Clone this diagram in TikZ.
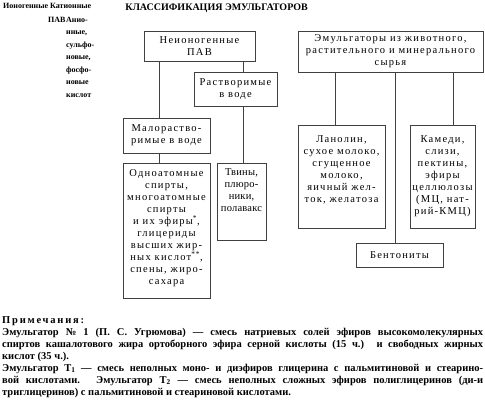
\documentclass[tikz,border=0pt]{standalone}
\usepackage{fontspec}
\setmainfont{Liberation Serif}
\newfontfamily\boxfont[LetterSpace=12]{Liberation Serif}
\usepackage{tikz}
\usetikzlibrary{
    positioning,
    calc,
}
\setlength{\parindent}{0pt}
\tikzset{
    % Box styles
    box/.style={rectangle, draw=black!75, line width=0.8pt, inner sep=0pt,
                align=center, font=\boxfont\fontsize{10.5}{12}\selectfont},
    % Connector styles
    link/.style={draw=black!75, line width=0.8pt},
    % Text styles
    head/.style={font=\bfseries\fontsize{10}{12}\selectfont, inner sep=0pt},
    side/.style={font=\bfseries\fontsize{8}{12.5}\selectfont, inner sep=0pt},
    note/.style={font=\bfseries\fontsize{10.5}{12}\selectfont, text width=481pt,
                 align=justify, inner sep=0pt},
}
\newcommand{\topbox}[4][6pt]{\parbox[c][#3][t]{#2}{\centering\vspace{#1}#4}}

\begin{document}
\begin{tikzpicture}[x=1pt, y=-1pt]
    \fill[white] (0,0) rectangle (485,404);
    \useasboundingbox (0,0) rectangle (485,404);

    % Header
    \node[head] (title) at (216.5,8) {КЛАССИФИКАЦИЯ ЭМУЛЬГАТОРОВ};
    \node[side, anchor=west] (ionic) at (3,6) {Ионогенные};
    \node[side, anchor=west] (cationic) at (50,6) {Катионные};
    \node[side, anchor=west] (pav) at (48,20) {ПАВ};
    \node[side, anchor=north west, align=left] (anionic) at (66,17)
        {Анио-\\нные,\\сульфо-\\новые,\\фосфо-\\новые\\кислот};

    % Left branch
    \node[box, minimum width=111pt, minimum height=30pt] (nonionic) at (199.5,46) {Неионогенные\\ПАВ};
    \node[box, minimum width=83pt, minimum height=34pt] (soluble) at (235.5,89) {Растворимые\\в воде};
    \node[box, minimum width=87pt, minimum height=35pt] (slightly) at (166.5,135.5) {Малораство-\\римые в воде};
    \node[box] (alcohols) at (166.5,230.5) {\topbox[7pt]{87pt}{135pt}{Одноатомные\\спирты,\\многоатомные\\спирты\\и их эфиры\textsuperscript{*},\\глицериды\\высших жир-\\ных кислот\textsuperscript{**},\\спены, жиро-\\сахара}};
    \node[box] (tweens) at (241.5,201.5) {\topbox{49pt}{77pt}{\addfontfeature{LetterSpace=2}Твины,\\плюро-\\ники,\\полавакс}};

    % Right branch
    \node[box, minimum width=185pt, minimum height=41pt] (natural) at (390.5,51.5) {Эмульгаторы из животного,\\растительного и минерального\\сырья};
    \node[box] (lanolin) at (341.5,176.5) {\topbox[11pt]{87pt}{103pt}{Ланолин,\\сухое молоко,\\сгущенное\\молоко,\\яичный жел-\\ток, желатоза}};
    \node[box] (gums) at (442.5,176.5) {\topbox[11pt]{65pt}{103pt}{Камеди,\\слизи,\\пектины,\\эфиры\\целлюлозы\\(МЦ, нат-\\рий-КМЦ)}};
    \node[box, minimum width=87pt, minimum height=24pt] (bentonite) at (399.5,255) {Бентониты};

    % Connectors
    \draw[link] ([xshift=-7.5pt]slightly.north) -- ([xshift=-7.5pt]slightly.north |- nonionic.south);
    \draw[link] ([xshift=-7.5pt]slightly.south) -- ([xshift=-7.5pt]slightly.south |- alcohols.north);
    \draw[link] ([xshift=7.5pt]soluble.north) -- ([xshift=7.5pt]soluble.north |- nonionic.south);
    \draw[link] ([xshift=7.5pt]soluble.south) -- ([xshift=7.5pt]soluble.south |- tweens.north);
    \draw[link] ([xshift=-6.5pt]lanolin.north) -- ([xshift=-6.5pt]lanolin.north |- natural.south);
    \draw[link] ([xshift=-4.5pt]bentonite.north) -- ([xshift=-4.5pt]bentonite.north |- natural.south);
    \draw[link] ([xshift=10.5pt]gums.north) -- ([xshift=10.5pt]gums.north |- natural.south);

    % Notes
    \node[note, anchor=north west] (notes) at (2,316) {%
        {\addfontfeature{LetterSpace=17}Примечания:}\par
        Эмульгатор № 1 (П. С. Угрюмова) — смесь натриевых солей эфиров высокомолекулярных\linebreak
        спиртов кашалотового жира ортоборного эфира серной кислоты (15 ч.) и свободных жирных\linebreak
        кислот (35 ч.).\par
        Эмульгатор Т\textsubscript{1} — смесь неполных моно- и диэфиров глицерина с пальмитиновой и стеарино-\linebreak
        вой кислотами. Эмульгатор Т\textsubscript{2} — смесь неполных сложных эфиров полиглицеринов (ди-и\linebreak
        триглицеринов) с пальмитиновой и стеариновой кислотами.};
\end{tikzpicture}
\end{document}
